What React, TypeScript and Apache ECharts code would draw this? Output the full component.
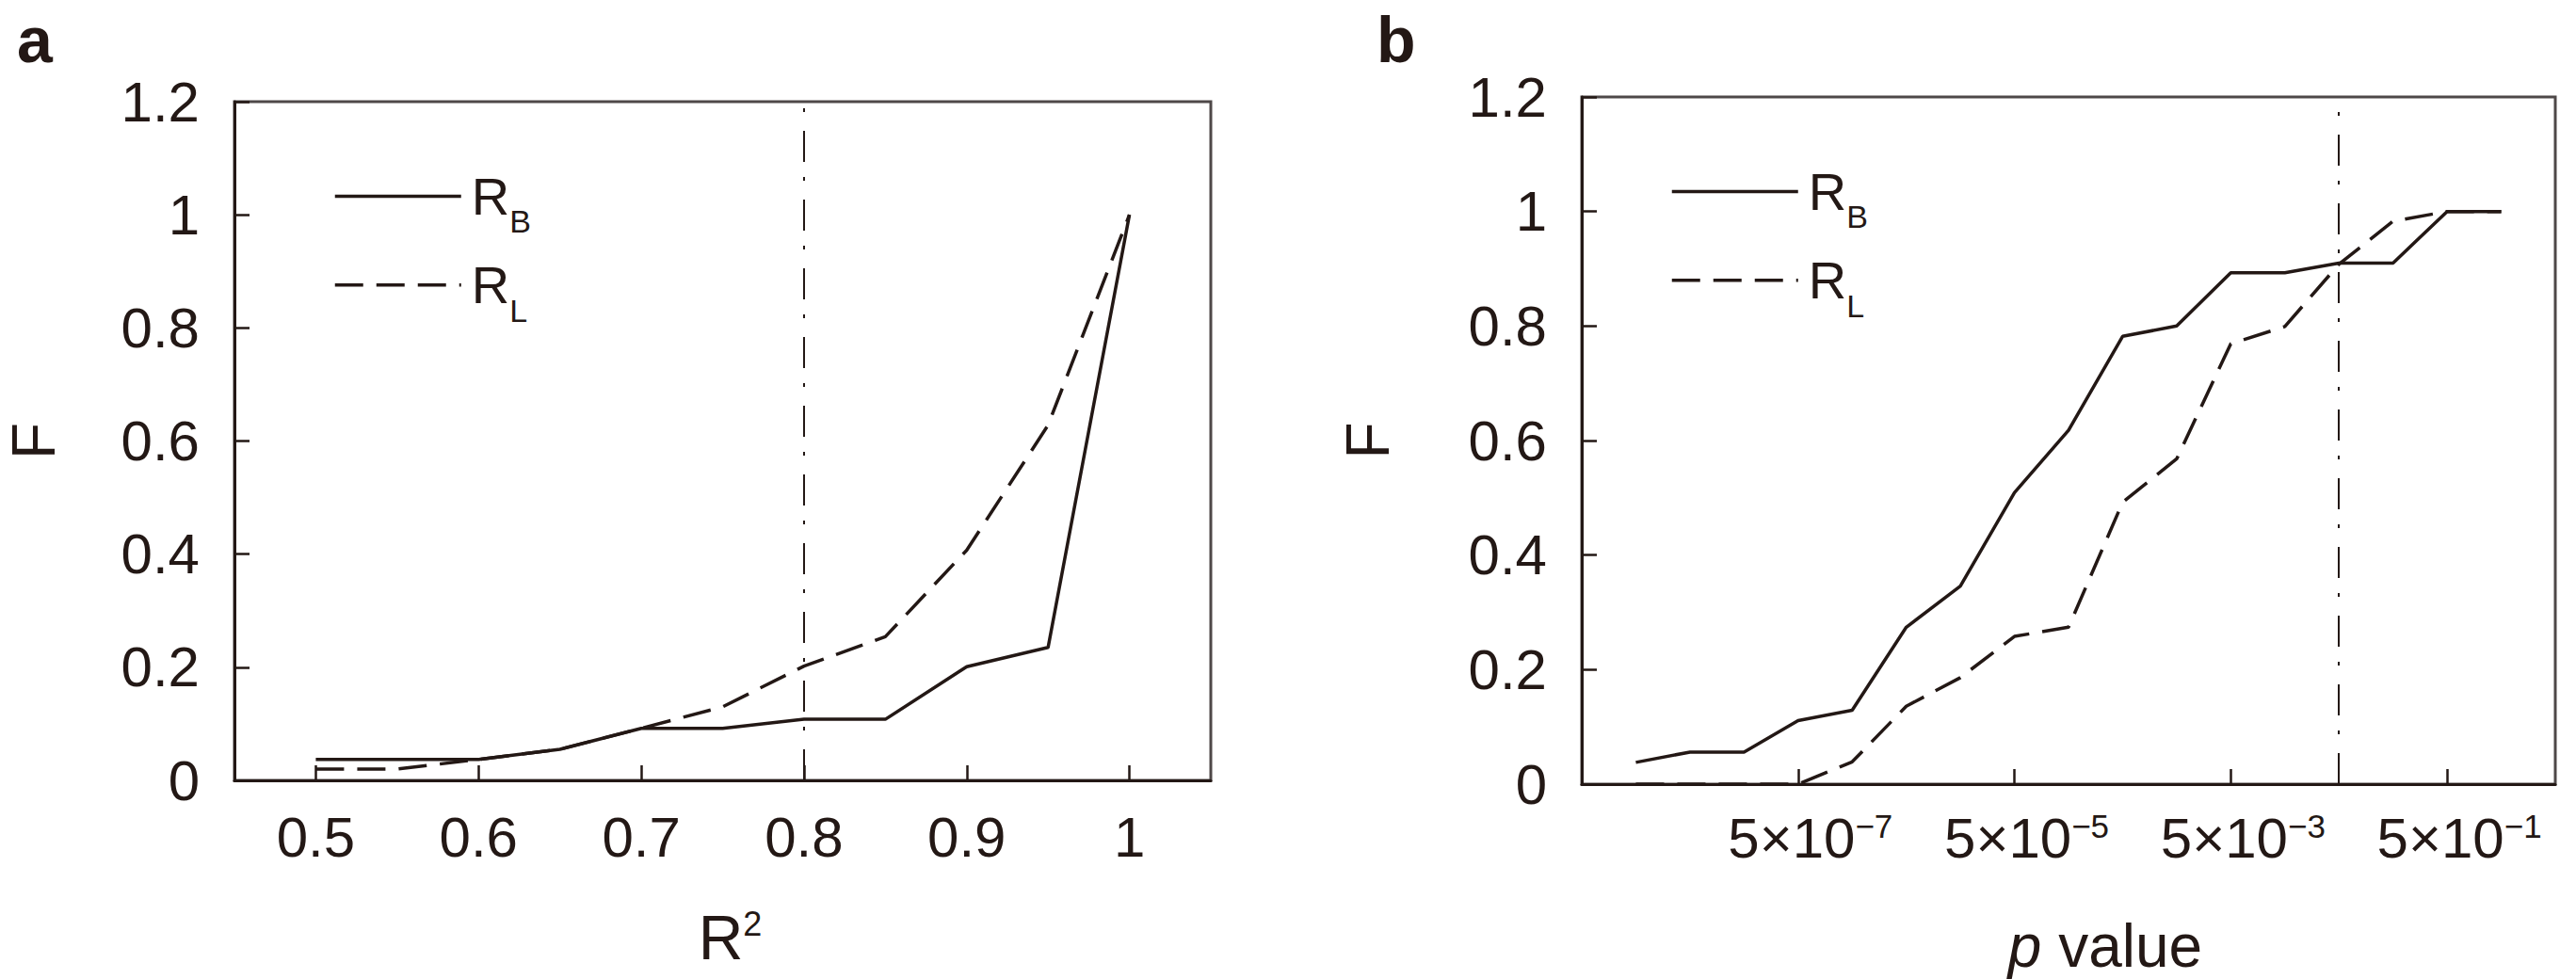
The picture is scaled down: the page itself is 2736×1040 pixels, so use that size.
import React, { useEffect, useRef } from 'react';
import * as echarts from 'echarts';

// ---------- Panel a data ----------
const r2Values = [0.5, 0.55, 0.6, 0.65, 0.7, 0.75, 0.8, 0.85, 0.9, 0.95, 1.0];
const fRB_a = [0.037, 0.037, 0.037, 0.055, 0.092, 0.092, 0.108, 0.108, 0.201, 0.235, 1.0];
const fRL_a = [0.02, 0.02, 0.037, 0.055, 0.092, 0.13, 0.202, 0.254, 0.407, 0.628, 1.0];
const r2TickValues = [0.5, 0.6, 0.7, 0.8, 0.9, 1];
const r2Threshold = 0.8;

// ---------- Panel b data ----------
const pThresholds = [1e-8, 5e-8, 1e-7, 5e-7, 1e-6, 5e-6, 1e-5, 5e-5, 1e-4, 5e-4, 1e-3, 5e-3, 1e-2, 5e-2, 1e-1, 5e-1, 1];
const fRB_b = [0.038, 0.056, 0.056, 0.111, 0.129, 0.274, 0.346, 0.509, 0.618, 0.782, 0.8, 0.893, 0.893, 0.91, 0.91, 1, 1];
const fRL_b = [0, 0, 0, 0, 0.039, 0.136, 0.186, 0.258, 0.274, 0.492, 0.568, 0.769, 0.799, 0.908, 0.983, 1, 1];
const pTickValues = [5e-7, 5e-5, 5e-3, 5e-1];
const pThreshold = 0.05;

// ---------- Shared ----------
const seriesNames = ['R_B', 'R_L'];
const legendLabels: Record<string, [string, string]> = { R_B: ['R', 'B'], R_L: ['R', 'L'] };
const panelLetters = ['a', 'b'];
const yMin = 0;
const yMax = 1.2;
const yStep = 0.2;

const INK = '#231815';
const FONT = '"Liberation Sans", Arial, Helvetica, sans-serif';

function pLabel(idx: number): string {
  const p = pThresholds[idx];
  if (p === undefined) return '';
  const [m, e] = p.toExponential().split('e');
  const ex = parseInt(e, 10);
  return `{b|${m}×10}{sup|${ex < 0 ? '−' : ''}${Math.abs(ex)}}`;
}

export default function App() {
  const ref = useRef<HTMLDivElement>(null);

  useEffect(() => {
    if (!ref.current) return;
    const chart = echarts.init(ref.current, null, { renderer: 'svg' });

    const solid = { color: INK, width: 3.5, type: 'solid' as const };
    const dashed = { color: INK, width: 3.5, type: [30, 14] };
    const dashDot = { color: INK, width: 2, type: [33, 20, 4, 16] };

    const axisLineStyle = { show: true, onZero: false, lineStyle: { color: INK, width: 3 } };
    const tickStyle = { show: true, inside: true, length: 16, lineStyle: { color: INK, width: 2.5 } };
    const labelFont = { fontSize: 60, color: INK, fontFamily: FONT };

    const legendRich = {
      r: { fontSize: 56, lineHeight: 88, color: INK, fontFamily: FONT, padding: [0, 0, 0, 6] },
      s: { fontSize: 34, lineHeight: 34, verticalAlign: 'bottom', color: INK, fontFamily: FONT },
    };
    const legendFormatter = (name: string) => {
      const [main, sub] = legendLabels[name];
      return `{r|${main}}{s|${sub}}`;
    };
    const legendBase = {
      orient: 'vertical',
      itemWidth: 134,
      itemHeight: 86,
      itemGap: 16,
      padding: 0,
      selectedMode: false,
      data: seriesNames,
      formatter: legendFormatter,
      itemStyle: { opacity: 0, borderWidth: 0 },
      lineStyle: { width: 3.5, color: INK, type: 'inherit' },
      textStyle: { rich: legendRich },
    };

    const option: any = {
      animation: false,
      backgroundColor: '#ffffff',
      textStyle: { fontFamily: FONT, color: INK },
      title: panelLetters.map((t, i) => ({
        text: t,
        left: i === 0 ? 18 : 1462,
        top: 12,
        padding: 0,
        textStyle: { fontSize: 68, lineHeight: 60, fontWeight: 'bold', color: INK, fontFamily: FONT },
      })),
      legend: [
        { ...legendBase, left: 354, top: 174 },
        { ...legendBase, left: 1774, top: 169 },
      ],
      grid: [
        { left: 249, top: 108, width: 1037, height: 721, show: true, borderColor: '#4e4848', borderWidth: 3, backgroundColor: 'transparent', containLabel: false, outerBoundsMode: 'none' },
        { left: 1680, top: 103, width: 1034, height: 730, show: true, borderColor: '#4e4848', borderWidth: 3, backgroundColor: 'transparent', containLabel: false, outerBoundsMode: 'none' },
      ],
      xAxis: [
        {
          gridIndex: 0,
          type: 'value',
          min: 0.45,
          max: 1.05,
          splitLine: { show: false },
          axisLine: axisLineStyle,
          axisTick: { ...tickStyle, customValues: r2TickValues },
          axisLabel: { ...labelFont, margin: 30, customValues: r2TickValues, formatter: (v: number) => String(Math.round(v * 100) / 100) },
          name: '{r|R}{s|2}',
          nameLocation: 'middle',
          nameGap: 134,
          nameTextStyle: {
            padding: [0, 0, 0, 16],
            rich: {
              r: { fontSize: 66, color: INK, fontFamily: FONT },
              s: { fontSize: 36, verticalAlign: 'top', color: INK, fontFamily: FONT },
            },
          },
        },
        {
          gridIndex: 1,
          type: 'value',
          min: -1,
          max: pThresholds.length,
          splitLine: { show: false },
          axisLine: axisLineStyle,
          axisTick: { ...tickStyle, customValues: pTickValues.map((p) => pThresholds.indexOf(p)) },
          axisLabel: {
            color: INK,
            margin: 27,
            padding: [0, 0, 0, 26],
            customValues: pTickValues.map((p) => pThresholds.indexOf(p)),
            formatter: (v: number) => pLabel(Math.round(v)),
            rich: {
              b: { fontSize: 60, color: INK, fontFamily: FONT },
              sup: { fontSize: 35, verticalAlign: 'top', color: INK, fontFamily: FONT },
            },
          },
          name: '{i|p}{v| value}',
          nameLocation: 'middle',
          nameGap: 140,
          nameTextStyle: {
            padding: [0, 0, 0, 78],
            rich: {
              i: { fontSize: 64, fontStyle: 'italic', color: INK, fontFamily: FONT },
              v: { fontSize: 64, color: INK, fontFamily: FONT },
            },
          },
        },
      ],
      yAxis: [0, 1].map((g) => ({
        gridIndex: g,
        type: 'value',
        min: yMin,
        max: yMax,
        interval: yStep,
        splitLine: { show: false },
        axisLine: axisLineStyle,
        axisTick: tickStyle,
        axisLabel: { ...labelFont, margin: 37 },
        name: 'F',
        nameLocation: 'middle',
        nameRotate: 90,
        nameGap: g === 0 ? 181 : 195,
        nameTextStyle: { fontSize: 64, color: INK, fontFamily: FONT },
      })),
      series: [
        {
          name: 'R_L',
          type: 'line',
          xAxisIndex: 0,
          yAxisIndex: 0,
          symbol: 'none',
          lineStyle: dashed,
          itemStyle: { color: INK },
          data: r2Values.map((x, i) => [x, fRL_a[i]]),
          z: 3,
        },
        {
          name: 'R_B',
          type: 'line',
          xAxisIndex: 0,
          yAxisIndex: 0,
          symbol: 'none',
          lineStyle: solid,
          itemStyle: { color: INK },
          data: r2Values.map((x, i) => [x, fRB_a[i]]),
          z: 4,
          markLine: {
            silent: true,
            symbol: ['none', 'none'],
            label: { show: false },
            lineStyle: dashDot,
            data: [{ xAxis: r2Threshold }],
          },
        },
        {
          name: 'R_L',
          type: 'line',
          xAxisIndex: 1,
          yAxisIndex: 1,
          symbol: 'none',
          lineStyle: dashed,
          itemStyle: { color: INK },
          data: pThresholds.map((_, i) => [i, fRL_b[i]]),
          z: 3,
        },
        {
          name: 'R_B',
          type: 'line',
          xAxisIndex: 1,
          yAxisIndex: 1,
          symbol: 'none',
          lineStyle: solid,
          itemStyle: { color: INK },
          data: pThresholds.map((_, i) => [i, fRB_b[i]]),
          z: 4,
          markLine: {
            silent: true,
            symbol: ['none', 'none'],
            label: { show: false },
            lineStyle: dashDot,
            data: [{ xAxis: pThresholds.indexOf(pThreshold) }],
          },
        },
      ],
    };

    chart.setOption(option);
    return () => chart.dispose();
  }, []);

  return (
    <div
      ref={ref}
      style={{ position: 'absolute', left: 0, top: 0, width: 2736, height: 1040, background: '#fff' }}
    />
  );
}
